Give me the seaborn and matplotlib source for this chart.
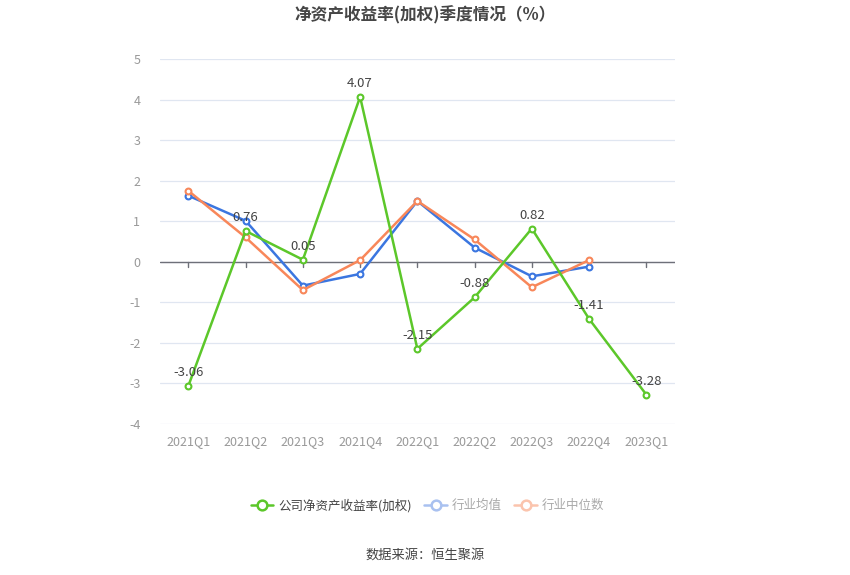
import matplotlib
matplotlib.use("Agg")
import matplotlib.pyplot as plt
import seaborn as sns
import pandas as pd
from matplotlib.lines import Line2D

quarters = ["2021Q1", "2021Q2", "2021Q3", "2021Q4", "2022Q1", "2022Q2", "2022Q3", "2022Q4", "2023Q1"]
company = [-3.06, 0.76, 0.05, 4.07, -2.15, -0.88, 0.82, -1.41, -3.28]
industry_avg = [1.63, 1.01, -0.59, -0.30, 1.50, 0.35, -0.36, -0.12]
industry_med = [1.75, 0.60, -0.70, 0.04, 1.50, 0.55, -0.63, 0.04]

names = ["公司净资产收益率(加权)", "行业均值", "行业中位数"]
colors = ["#5cc72a", "#3b76e0", "#f8875a"]

sns.set_theme(style="white")
plt.rcParams['font.family'] = ['Noto Sans CJK SC', 'DejaVu Sans']

rows = []
for name, vals in zip(names, [company, industry_avg, industry_med]):
    for i, v in enumerate(vals):
        rows.append({"x": i, "value": v, "series": name})
df = pd.DataFrame(rows)

fig = plt.figure(figsize=(8.5, 5.75), dpi=100)
ax = fig.add_axes([0.188, 0.263, 0.606, 0.634])

for name, color, z in [(names[1], colors[1], 3), (names[2], colors[2], 4), (names[0], colors[0], 5)]:
    sub = df[df["series"] == name]
    sns.lineplot(data=sub, x="x", y="value", ax=ax, color=color, linewidth=1.8,
                 marker="o", markersize=4.2, markerfacecolor="white",
                 markeredgecolor=color, markeredgewidth=1.5, zorder=z, legend=False)

for i, v in enumerate(company):
    ax.annotate(f"{v:.2f}", (i, v), xytext=(0, 5), textcoords="offset points",
                ha="center", va="bottom", fontsize=9.5, color="#444444", zorder=6)

ax.set_xlim(-0.5, 8.5)
ax.set_ylim(-4, 5)
ax.set_yticks(range(-4, 6))
ax.set_yticklabels([str(t) for t in range(-4, 6)])
ax.set_xticks(range(len(quarters)))
ax.set_xticklabels(quarters)
ax.set_xlabel("")
ax.set_ylabel("")
for s in ax.spines.values():
    s.set_visible(False)
ax.grid(axis="y", color="#e0e6f1", linewidth=0.9)
ax.grid(axis="x", visible=False)
ax.set_axisbelow(True)
ax.axhline(0, color="#6e7079", linewidth=1.0, zorder=2)
for i in range(len(quarters)):
    ax.plot([i, i], [0, -0.12], color="#6e7079", linewidth=1.0, zorder=2)
ax.tick_params(axis="both", length=0, labelsize=9, labelcolor="#999999")
ax.tick_params(axis="x", pad=8)
ax.tick_params(axis="y", pad=14)

fig.text(0.5, 0.973, "净资产收益率(加权)季度情况（%）", ha="center", va="center",
         fontsize=12, fontweight="bold", color="#464646")
fig.text(0.5, 0.035, "数据来源：恒生聚源", ha="center", va="center",
         fontsize=9.5, color="#444444")

handles = [
    Line2D([0], [0], color=colors[0], linewidth=1.8, marker="o", markersize=7,
           markerfacecolor="white", markeredgecolor=colors[0], markeredgewidth=1.8),
    Line2D([0], [0], color="#a9c1f0", linewidth=1.8, marker="o", markersize=7,
           markerfacecolor="white", markeredgecolor="#a9c1f0", markeredgewidth=1.8),
    Line2D([0], [0], color="#fbc4ad", linewidth=1.8, marker="o", markersize=7,
           markerfacecolor="white", markeredgecolor="#fbc4ad", markeredgewidth=1.8),
]
leg = fig.legend(handles, names, loc="center", bbox_to_anchor=(0.503, 0.121), ncol=3,
                 frameon=False, fontsize=9, handlelength=1.8, columnspacing=1.0,
                 handletextpad=0.4)
for t, c in zip(leg.get_texts(), ["#444444", "#aaaaaa", "#aaaaaa"]):
    t.set_color(c)

fig.savefig("out.png", dpi=100)
